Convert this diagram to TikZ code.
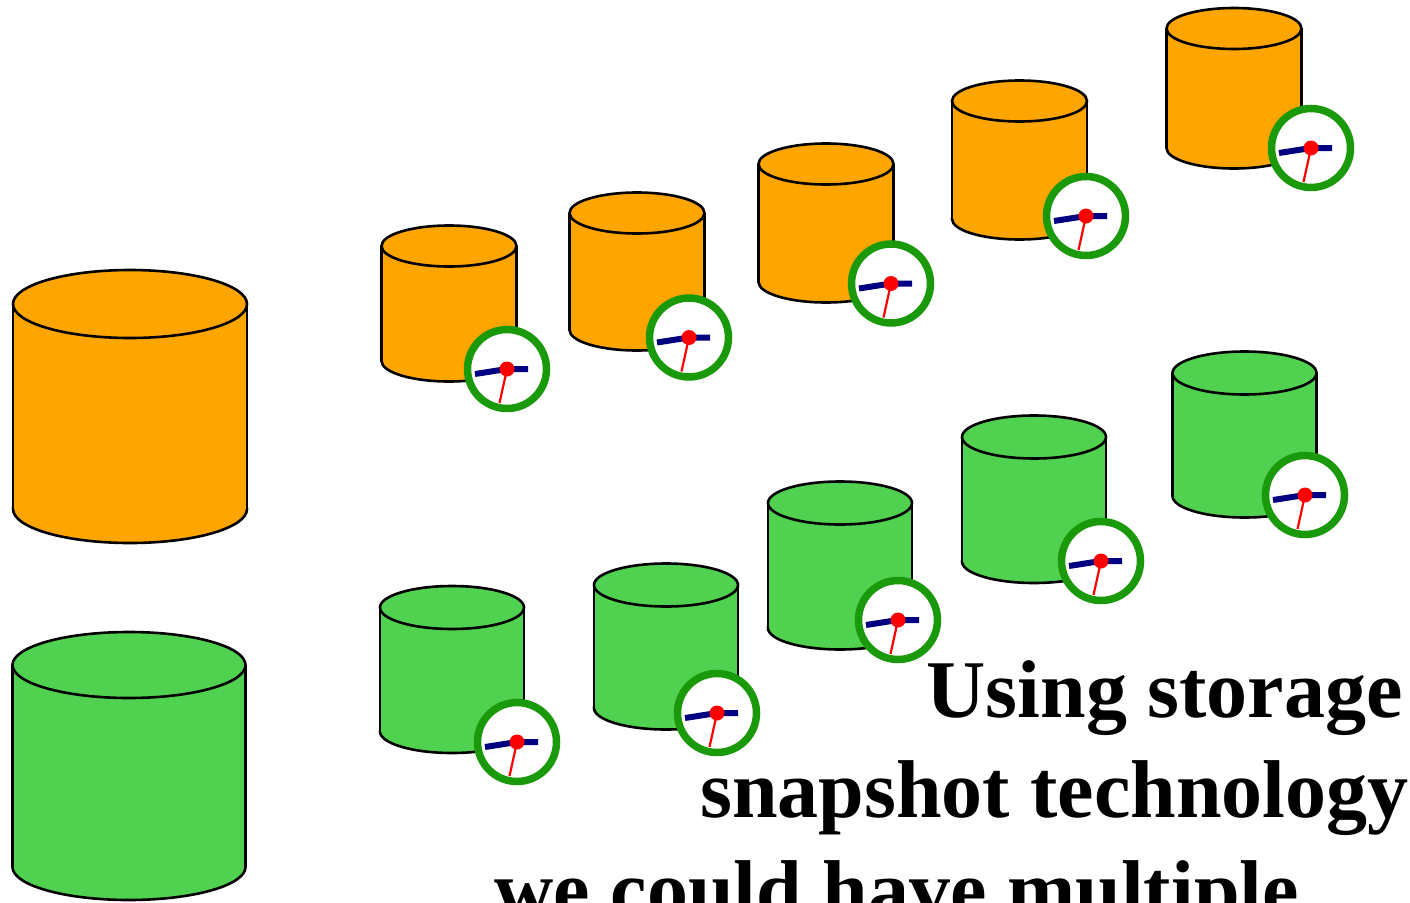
\documentclass[tikz,border=0pt]{standalone}
\usepackage{fontspec}
\setmainfont{Liberation Serif}
\usepackage{xcolor}
\usepackage{tikz}
\usetikzlibrary{positioning}
\definecolor{diskorange}{HTML}{FFA500}
\definecolor{diskgreen}{HTML}{50D250}
\definecolor{ringgreen}{HTML}{1A9A0A}
\definecolor{handblue}{HTML}{000080}
\definecolor{handred}{HTML}{FF0000}
\tikzset{
  disk/.style={draw=black, line width=2.6pt},
  clock ring/.style={draw=ringgreen, fill=white, line width=7.5pt},
  hand long/.style={draw=handblue, line width=6pt},
  hand short/.style={draw=handred, line width=2.2pt},
  caption/.style={inner sep=0pt, font=\bfseries\fontsize{82}{100}\selectfont},
  clock/.pic={
    \draw[clock ring] (0,0) circle[radius=39.5];
    \draw[hand long] (-32,5) -- (0,0) -- (21,0);
    \draw[hand short] (0,0) -- (-7.5,34);
    \fill[handred] (0,0) circle[radius=7.5];
  },
}
% #1 centre x, #2 top y, #3 bottom y, #4 x radius, #5 y radius, #6 colour
\newcommand{\drawdisk}[6]{
  \filldraw[disk, fill=#6] (#1,#3) ellipse[x radius=#4, y radius=#5];
  \fill[#6] (#1-#4,#2) rectangle (#1+#4,#3);
  \draw[disk] (#1-#4,#2) -- (#1-#4,#3) (#1+#4,#2) -- (#1+#4,#3);
  \filldraw[disk, fill=#6] (#1,#2) ellipse[x radius=#4, y radius=#5];
}

\begin{document}
\begin{tikzpicture}[x=1pt,y=-1pt]
  \useasboundingbox (0,0) rectangle (1410,902);
  \clip (0,0) rectangle (1410,902);

  \drawdisk{130}{304}{509}{117}{34}{diskorange}
  \drawdisk{129}{665}{867}{116.5}{33}{diskgreen}

  \foreach \cx/\ty/\by in {449/246/361, 637/213/330, 826/164/282, 1019.5/101/219, 1234/28.5/148}
    \drawdisk{\cx}{\ty}{\by}{67.5}{20.5}{diskorange};
  \foreach \cx/\ty/\by in {452/607.5/731.5, 666/585/708, 840/503/628, 1034/437/561.5, 1244.5/373/496}
    \drawdisk{\cx}{\ty}{\by}{72}{21.5}{diskgreen};

  \foreach \x/\y in {507/369, 689/337.5, 891/283.5, 1086/216, 1311/148,
                     517/742, 717/713, 898/620, 1101/561, 1305/495}
    \pic at (\x,\y) {clock};

  \node[caption, anchor=base east] (line1) at (1403,717) {Using storage};
  \node[caption, anchor=base east] (line2) at (1409,817) {snapshot technology};
  \node[caption, anchor=base east] (line3) at (1299,917) {we could have multiple};
\end{tikzpicture}
\end{document}
